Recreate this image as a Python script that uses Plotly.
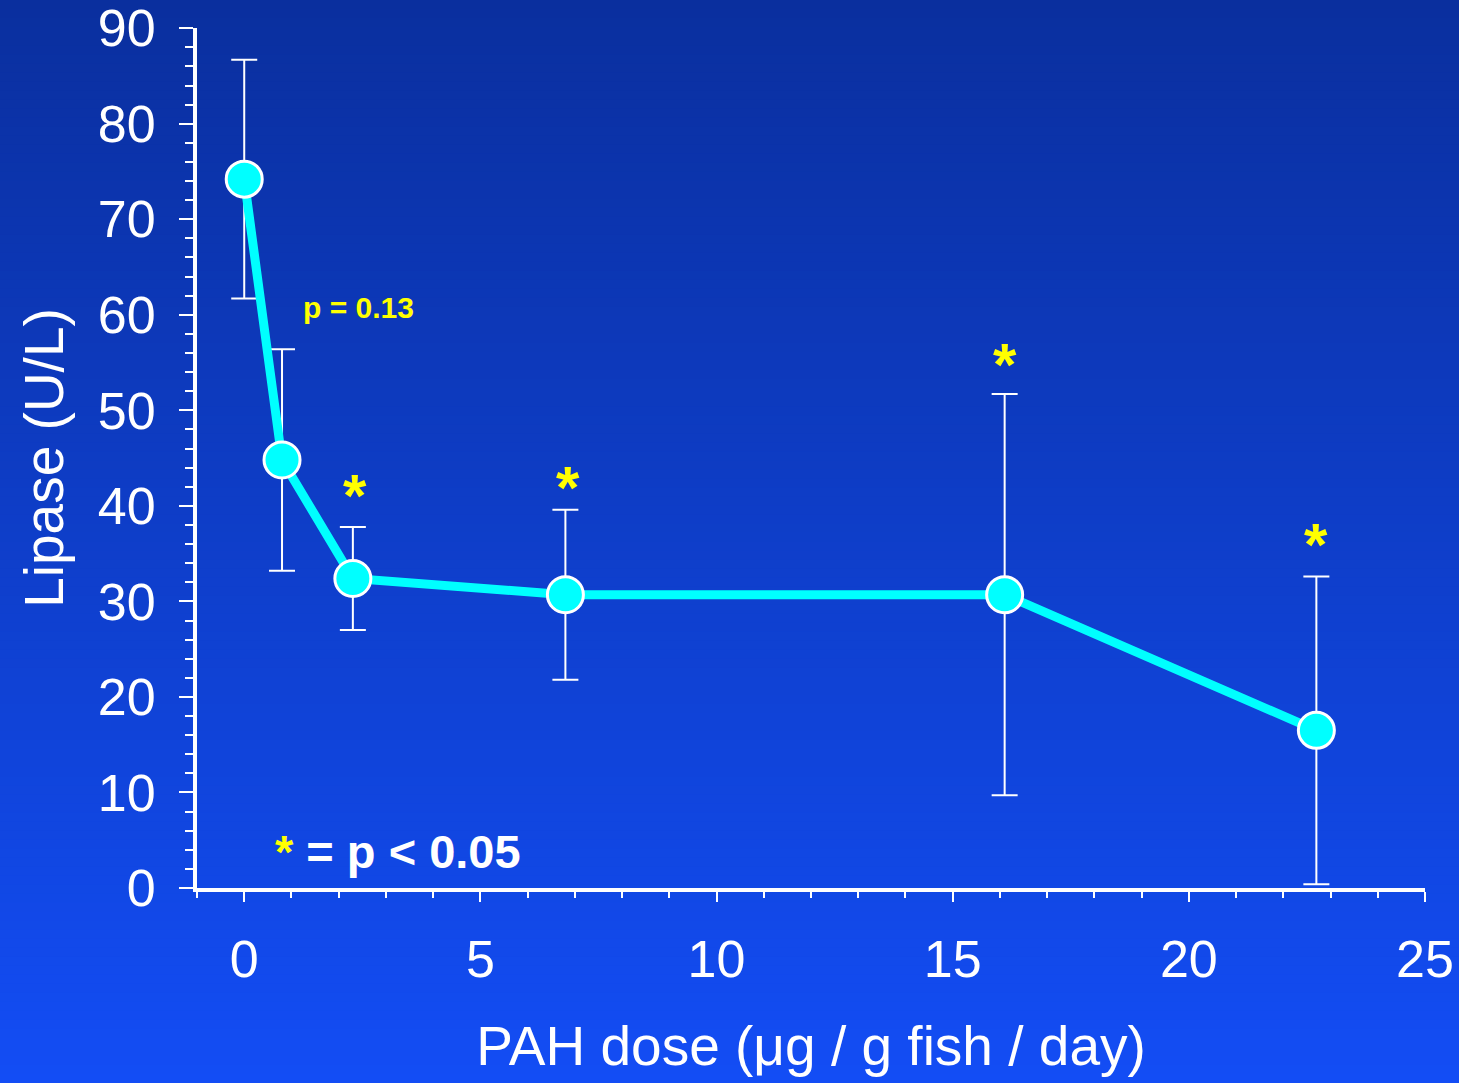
import plotly.graph_objects as go

# Data
dose = [0.0, 0.8, 2.3, 6.8, 16.1, 22.7]          # PAH dose (ug / g fish / day)
lipase = [74.2, 44.8, 32.4, 30.7, 30.7, 16.5]     # Lipase (U/L)
err = [12.5, 11.6, 5.4, 8.9, 21.0, 16.1]          # symmetric error bars
sig_dose = [2.35, 6.85, 16.1, 22.7]               # points marked with *
sig_y = [42.1, 43.0, 55.8, 37.0]

x_ticks = [0, 5, 10, 15, 20, 25]
y_ticks = [0, 10, 20, 30, 40, 50, 60, 70, 80, 90]

W, H = 1459, 1083
L, R, T, B = 197, 34, 28, 195
FONT = "Liberation Sans, Arial, sans-serif"

fig = go.Figure()

fig.add_trace(go.Scatter(
    x=dose, y=lipase, mode="lines+markers",
    line=dict(color="#00FFFF", width=9),
    marker=dict(size=36, color="#00FFFF", line=dict(color="white", width=3)),
    error_y=dict(type="data", array=err, visible=True, color="white",
                 thickness=2, width=13),
    cliponaxis=False, showlegend=False,
))

# Background gradient as horizontal stripes
top = (10, 47, 158)
bot = (19, 77, 245)
n = 120
ph = H - T - B
shapes = []
for i in range(n):
    f0 = i / n
    f1 = (i + 1) / n
    c = tuple(int(round(top[k] + (bot[k] - top[k]) * (i + 0.5) / n)) for k in range(3))
    y_top_px = f0 * H
    y_bot_px = f1 * H + 1
    shapes.append(dict(
        type="rect", xref="paper", yref="paper", layer="below",
        x0=-L / (W - L - R) - 0.01, x1=1 + R / (W - L - R) + 0.01,
        y0=1 - (y_bot_px - T) / ph, y1=1 - (y_top_px - T) / ph,
        fillcolor="rgb(%d,%d,%d)" % c, line=dict(width=0),
    ))

annotations = []
for xs, ys in zip(sig_dose, sig_y):
    annotations.append(dict(
        x=xs, y=ys, xref="x", yref="y", text="<b>*</b>", showarrow=False,
        font=dict(family=FONT, size=60, color="#FFFF00"), yshift=-10,
    ))
annotations.append(dict(
    x=1.2, y=60.8, xref="x", yref="y", text="<b>p = 0.13</b>", showarrow=False,
    xanchor="left", font=dict(family=FONT, size=30, color="#FFFF00"),
))
annotations.append(dict(
    x=0.6, y=3.8, xref="x", yref="y",
    text="<b><span style='color:#FFFF00'>*</span> = p &lt; 0.05</b>",
    showarrow=False, xanchor="left",
    font=dict(family=FONT, size=47, color="white"),
))

fig.update_layout(
    width=W, height=H,
    margin=dict(l=L, r=R, t=T, b=B, autoexpand=False),
    paper_bgcolor="#0F3DCC", plot_bgcolor="rgba(0,0,0,0)",
    shapes=shapes, annotations=annotations,
    font=dict(family=FONT, color="white"),
    xaxis=dict(
        range=[-1, 25], tickvals=x_ticks, ticks="outside", ticklen=10,
        tickwidth=2, tickcolor="white", showgrid=False, zeroline=False,
        showline=True, linecolor="white", linewidth=4, automargin=False,
        tickfont=dict(family=FONT, size=52, color="white"),
        ticklabelstandoff=13, ticklabeloverflow="allow",
        minor=dict(dtick=1, ticks="outside", ticklen=6, tickwidth=2, tickcolor="white"),
        title=dict(text="PAH dose (μg / g fish / day)",
                   font=dict(family=FONT, size=55, color="white"), standoff=40),
    ),
    yaxis=dict(
        range=[0, 90.02], tickvals=y_ticks, ticks="outside", ticklen=14,
        tickwidth=2, tickcolor="white", showgrid=False, zeroline=False,
        showline=True, linecolor="white", linewidth=4, automargin=False,
        tickfont=dict(family=FONT, size=52, color="white"),
        ticklabelstandoff=13, ticklabeloverflow="allow",
        minor=dict(dtick=2, ticks="outside", ticklen=8, tickwidth=2, tickcolor="white"),
        title=dict(text="Lipase (U/L)",
                   font=dict(family=FONT, size=55, color="white"), standoff=18),
    ),
)

fig.write_html("out.html")
